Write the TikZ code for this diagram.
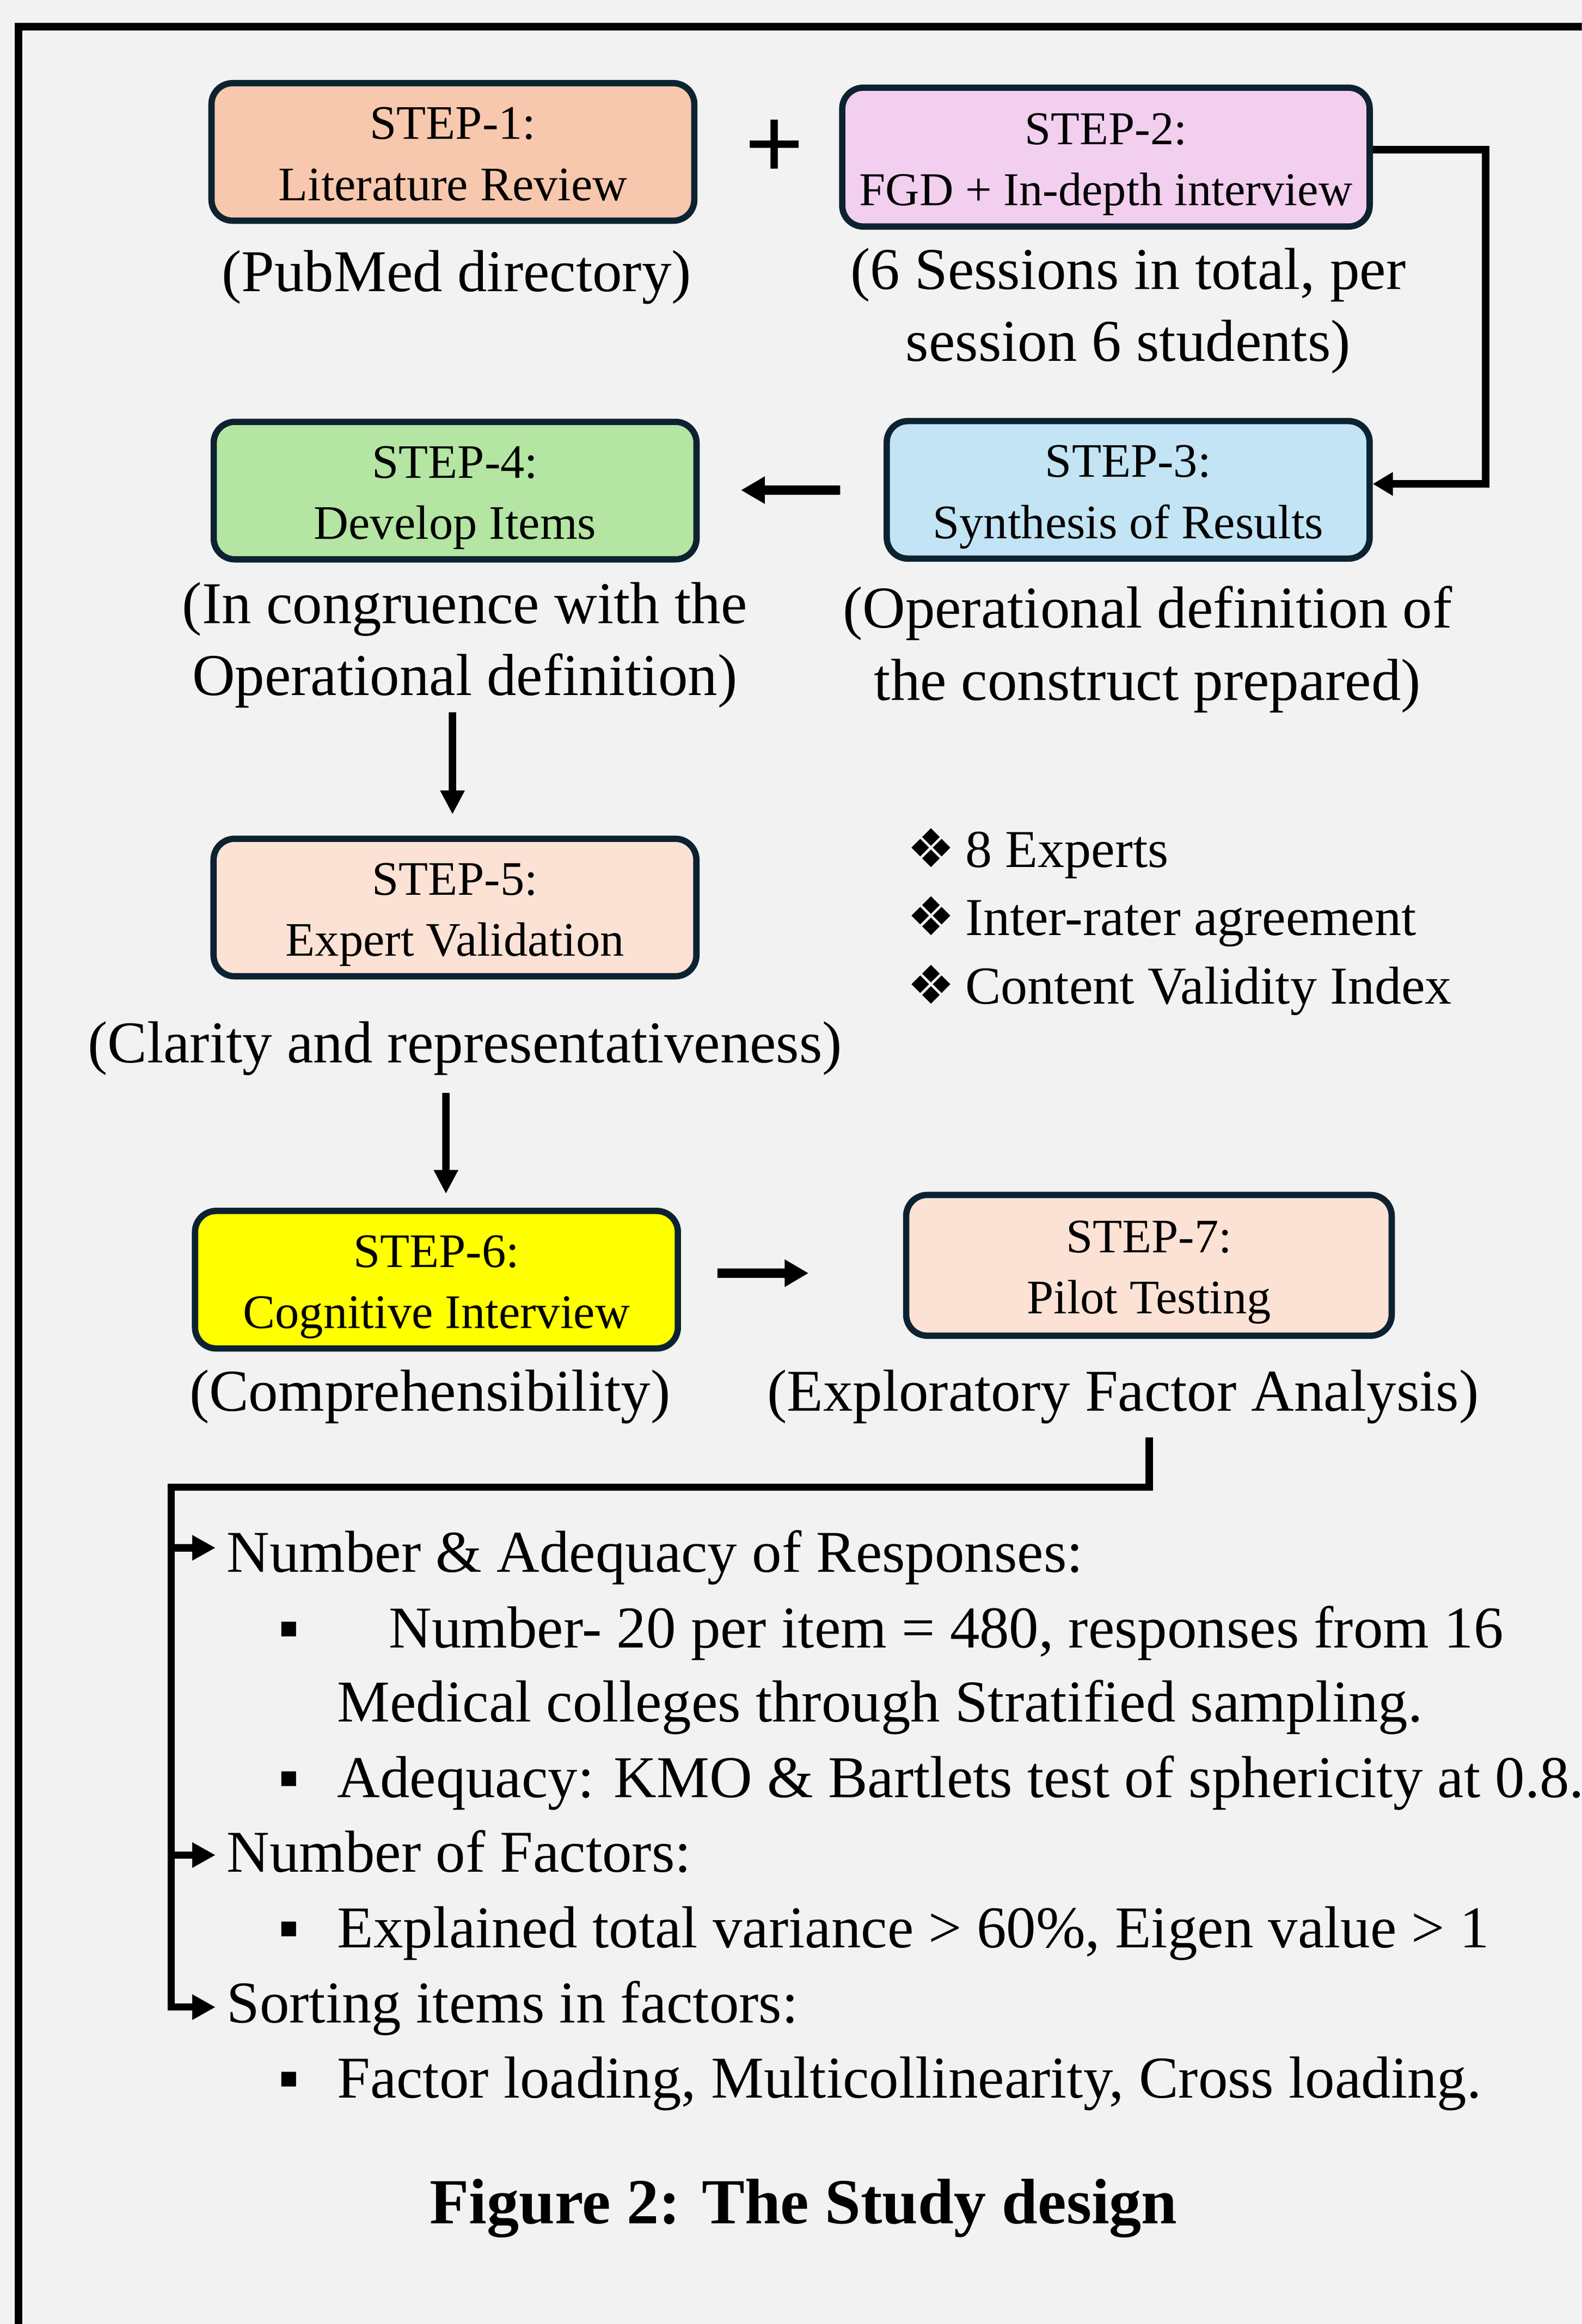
\documentclass[tikz,border=0pt]{standalone}
\usepackage{fontspec}
\setmainfont{Liberation Serif}
\newfontfamily\djv{DejaVu Sans}
\usetikzlibrary{arrows.meta,calc}
\newdimen\dpx \dpx=0.77491pt
\definecolor{bgc}{HTML}{F2F2F2}
\definecolor{bdr}{HTML}{0D2231}
\definecolor{cone}{HTML}{F7C8AD}
\definecolor{ctwo}{HTML}{F2CEEF}
\definecolor{cthree}{HTML}{C3E4F4}
\definecolor{cfour}{HTML}{B4E5A2}
\definecolor{cfive}{HTML}{FBE2D5}
\definecolor{csix}{HTML}{FFFF00}
\newcommand\bxs{\rule[-7.8\dpx]{0pt}{39.8\dpx}}
\newcommand\dss{\rule[-10\dpx]{0pt}{40\dpx}}
\tikzset{
  stepbox/.style={draw=bdr, line width=3.3pt, rounded corners=11pt, inner sep=0pt,
    minimum width=252.4pt, minimum height=71.9pt, align=center,
    font=\fontsize{25.18pt}{31.93pt}\selectfont},
  desc/.style={inner sep=0pt, align=center, font=\fontsize{31pt}{37.58pt}\selectfont},
  bul/.style={inner sep=0pt, font=\fontsize{27.9pt}{35.6pt}\selectfont},
  lst/.style={inner sep=0pt, font=\fontsize{31pt}{39.3pt}\selectfont},
  harrow/.style={line width=4.9pt, -{Triangle[length=12.5pt,width=13.5pt]}},
  varrow/.style={line width=3.8pt, -{Triangle[length=12.5pt,width=12pt]}},
  elbow/.style={line width=4pt, -{Triangle[length=10.5pt,width=11.7pt]}},
  lstarrow/.style={line width=3.8pt, -{Triangle[length=12.2pt,width=12.5pt]}}
}
\begin{document}
\begin{tikzpicture}[x=0.027235cm, y=-0.027235cm]
\fill[bgc] (0,0) rectangle (1067,1568);
\useasboundingbox (0,0) rectangle (1067,1568);
\begin{scope}
\clip (0,0) rectangle (1067,1568);
\draw[line width=4pt] (12.5,1590) -- (12.5,18) -- (1090,18);
\end{scope}

% step boxes
\node[stepbox, fill=cone] (s1) at (305.5,102.5) {\bxs STEP-1:\\\bxs Literature Review};
\node[stepbox, fill=ctwo, minimum width=275.7pt, minimum height=72.6pt,
      font=\fontsize{24.6pt}{31.93pt}\selectfont] (s2) at (746,106) {\bxs STEP-2:\\\bxs FGD + In-depth interview};
\node[stepbox, fill=cthree] (s3) at (761,330.5) {\bxs STEP-3:\\\bxs Synthesis of Results};
\node[stepbox, fill=cfour] (s4) at (307,331) {\bxs STEP-4:\\\bxs Develop Items};
\node[stepbox, fill=cfive] (s5) at (306.9,612.3) {\bxs STEP-5:\\\bxs Expert Validation};
\node[stepbox, fill=csix] (s6) at (294.4,863.4) {\bxs STEP-6:\\\bxs Cognitive Interview};
\node[stepbox, fill=cfive, minimum width=253.8pt, minimum height=73.6pt] (s7) at (775,853.7) {\bxs STEP-7:\\\bxs Pilot Testing};

\node[inner sep=0pt, font=\bfseries\fontsize{55pt}{60pt}\selectfont] (plus) at (522.3,101) {+};

% descriptions
\node[desc, anchor=base] (d1) at (308,196.7) {(PubMed directory)};
\node[desc] (d2) at (761,209.5) {\dss(6 Sessions in total, per\\\dss session 6 students)};
\node[desc] (d4) at (313.5,435) {\dss(In congruence with the\\\dss Operational definition)};
\node[desc] (d3) at (774,438) {\dss(Operational definition of\\\dss the construct prepared)};
\node[desc, anchor=base] (d5) at (313.6,716.8) {(Clarity and representativeness)};
\node[desc, anchor=base] (d6) at (290,952) {(Comprehensibility)};
\node[desc, anchor=base] (d7) at (757.5,952) {(Exploratory Factor Analysis)};

% expert bullets
\node[bul, anchor=base west] (b1) at (611.6,585.2) {\makebox[39.4\dpx][l]{\djv ❖}8 Experts};
\node[bul, anchor=base west] (b2) at (611.6,631.1) {\makebox[39.4\dpx][l]{\djv ❖}Inter-rater agreement};
\node[bul, anchor=base west] (b3) at (611.6,677.4) {\makebox[39.4\dpx][l]{\djv ❖}Content Validity Index};

% EFA list
\node[lst, anchor=base west] (l1) at (152.7,1060.8) {Number \& Adequacy of Responses:};
\node[lst, anchor=base west] (l2) at (187.6,1111.6) {\makebox[74.6\dpx][l]{▪}Number- 20 per item = 480, responses from 16};
\node[lst, anchor=base west] (l3) at (227.3,1161.8) {Medical colleges through Stratified sampling.};
\node[lst, anchor=base west] (l4) at (187.6,1212.7) {\makebox[39.7\dpx][l]{▪}Adequacy: KMO \& Bartlets test of sphericity at 0.8.};
\node[lst, anchor=base west] (l5) at (152.7,1263.1) {Number of Factors:};
\node[lst, anchor=base west] (l6) at (187.6,1314) {\makebox[39.7\dpx][l]{▪}Explained total variance > 60\%, Eigen value > 1};
\node[lst, anchor=base west] (l7) at (152.7,1364.8) {Sorting items in factors:};
\node[lst, anchor=base west] (l8) at (187.6,1415.5) {\makebox[39.7\dpx][l]{▪}Factor loading, Multicollinearity, Cross loading.};

\node[inner sep=0pt, anchor=base, font=\bfseries\fontsize{33.63pt}{40pt}\selectfont] (title) at (542,1500.3) {Figure 2: The Study design};

% connectors
\draw[elbow] ($(s2.east)+(0,-5)$) -| ($(s3.east)+(76,-4)$) -- ($(s3.east)+(0,-4)$);
\draw[harrow] ($(s3.west)+(-29.3,0.2)$) -- ($(s4.east)+(27.8,-0.3)$);
\draw[varrow] ($(s4.south)+(-1.8,101)$) -- ($(s5.north)+(-1.7,-14.3)$);
\draw[varrow] ($(s5.south)+(-6.1,76.6)$) -- ($(s6.north)+(6.4,-9.4)$);
\draw[harrow] ($(s6.east)+(24.6,-4.4)$) -- ($(s7.west)+(-63.7,5.3)$);

\coordinate (ef) at ($(s7.south)+(0.2,66.5)$);
\coordinate (j0) at ($(l1.base west)+(-37.2,-57.5)$);
\coordinate (a1) at ($(l1.base west)+(-7.3,-16.5)$);
\coordinate (a2) at ($(l5.base west)+(-7.3,-11.5)$);
\coordinate (a3) at ($(l7.base west)+(-7.3,-10.6)$);
\draw[lstarrow] (ef) |- (j0) |- (a3);
\draw[lstarrow] (j0 |- a1) -- (a1);
\draw[lstarrow] (j0 |- a2) -- (a2);
\end{tikzpicture}
\end{document}
